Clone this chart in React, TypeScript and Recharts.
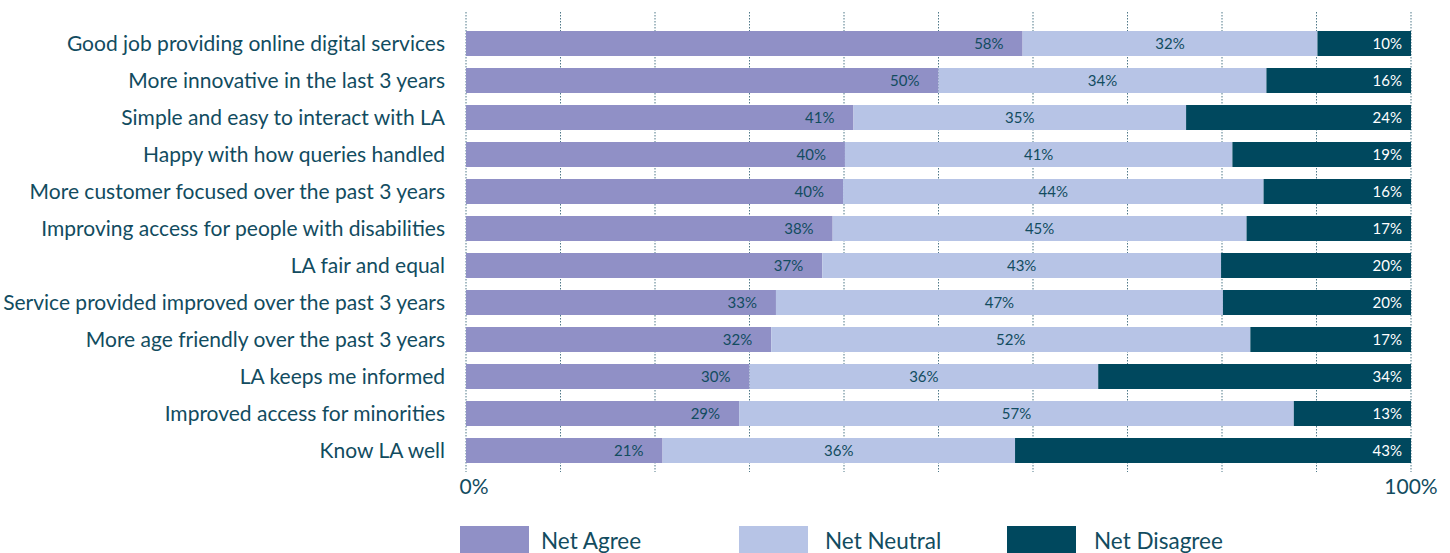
import React from 'react';
import { BarChart, Bar, XAxis, YAxis, CartesianGrid, LabelList } from 'recharts';

const categories = [
  'Good job providing online digital services',
  'More innovative in the last 3 years',
  'Simple and easy to interact with LA',
  'Happy with how queries handled',
  'More customer focused over the past 3 years',
  'Improving access for people with disabilities',
  'LA fair and equal',
  'Service provided improved over the past 3 years',
  'More age friendly over the past 3 years',
  'LA keeps me informed',
  'Improved access for minorities',
  'Know LA well',
];

// bar lengths as drawn (%)
const netAgree = [58.9, 50.0, 41.0, 40.1, 39.9, 38.8, 37.7, 32.8, 32.3, 30.0, 28.9, 20.8];
const netNeutral = [31.2, 34.7, 35.2, 41.0, 44.5, 43.8, 42.2, 47.3, 50.7, 36.9, 58.7, 37.3];
const netDisagree = [9.9, 15.3, 23.8, 18.9, 15.6, 17.4, 20.1, 19.9, 17.0, 33.1, 12.4, 41.9];

// printed labels (%)
const agreeLabels = [58, 50, 41, 40, 40, 38, 37, 33, 32, 30, 29, 21];
const neutralLabels = [32, 34, 35, 41, 44, 45, 43, 47, 52, 36, 57, 36];
const disagreeLabels = [10, 16, 24, 19, 16, 17, 20, 20, 17, 34, 13, 43];

const xTicks = [0, 10, 20, 30, 40, 50, 60, 70, 80, 90, 100];

const AGREE = '#9090c6';
const NEUTRAL = '#b7c4e6';
const DISAGREE = '#00485e';
const TEXT = '#124c5f';
const FONT = 'Lato, "Open Sans", sans-serif';

const data = categories.map((name, i) => ({
  name,
  agree: netAgree[i],
  neutral: netNeutral[i],
  disagree: netDisagree[i],
  agreeLabel: `${agreeLabels[i]}%`,
  neutralLabel: `${neutralLabels[i]}%`,
  disagreeLabel: `${disagreeLabels[i]}%`,
}));

const legendItems = [
  { name: 'Net Agree', color: AGREE, left: 460, textLeft: 541 },
  { name: 'Net Neutral', color: NEUTRAL, left: 739, textLeft: 825 },
  { name: 'Net Disagree', color: DISAGREE, left: 1007, textLeft: 1094 },
];

const CategoryTick = (props: any) => {
  const { x, y, payload } = props;
  return (
    <text x={x} y={y} dy="0.36em" textAnchor="end" fill={TEXT} fontSize={21} fontFamily={FONT}>
      {payload.value}
    </text>
  );
};

const PercentTick = (props: any) => {
  const { x, y, payload } = props;
  if (payload.value !== 0 && payload.value !== 100) return null;
  return (
    <text x={payload.value === 0 ? x + 8 : x} y={y} dy="0.72em" textAnchor="middle" fill={TEXT} fontSize={21} fontFamily={FONT}>
      {`${payload.value}%`}
    </text>
  );
};

const GridLine = (props: any) => {
  const { x1, x2, y1, y2 } = props;
  return (
    <line x1={x1} x2={x2} y1={y1 - 13} y2={y2 + 3} stroke="#4f7888" strokeWidth={1} strokeDasharray="1.5 1.5" />
  );
};

export default function App() {
  return (
    <div style={{ position: 'absolute', left: 0, top: 0, width: 1450, height: 553, overflow: 'hidden', background: '#fff' }}>
      <BarChart
        width={1450}
        height={553}
        data={data}
        layout="vertical"
        margin={{ top: 25, right: 39, bottom: 54, left: 0 }}
        barSize={25}
      >
        <CartesianGrid horizontal={false} vertical={GridLine} />
        <XAxis
          type="number"
          domain={[0, 100]}
          ticks={xTicks}
          interval={0}
          axisLine={false}
          tickLine={false}
          tickSize={0}
          tickMargin={10}
          height={30}
          tick={<PercentTick />}
        />
        <YAxis
          type="category"
          dataKey="name"
          width={466}
          axisLine={false}
          tickLine={false}
          tickSize={0}
          tickMargin={21}
          interval={0}
          tick={<CategoryTick />}
        />
        <Bar dataKey="agree" stackId="a" fill={AGREE} isAnimationActive={false}>
          <LabelList dataKey="agreeLabel" position="insideRight" offset={19} fill={TEXT} fontSize={15} fontFamily={FONT} />
        </Bar>
        <Bar dataKey="neutral" stackId="a" fill={NEUTRAL} isAnimationActive={false}>
          <LabelList dataKey="neutralLabel" position="center" fill={TEXT} fontSize={15} fontFamily={FONT} />
        </Bar>
        <Bar dataKey="disagree" stackId="a" fill={DISAGREE} isAnimationActive={false}>
          <LabelList dataKey="disagreeLabel" position="insideRight" offset={9} fill="#ffffff" fontSize={15} fontFamily={FONT} />
        </Bar>
      </BarChart>
      {legendItems.map((item) => (
        <React.Fragment key={item.name}>
          <div style={{ position: 'absolute', left: item.left, top: 526, width: 69, height: 30, background: item.color }} />
          <div
            style={{
              position: 'absolute',
              left: item.textLeft,
              top: 528,
              fontFamily: FONT,
              fontSize: 22.5,
              lineHeight: '26px',
              color: TEXT,
              whiteSpace: 'nowrap',
            }}
          >
            {item.name}
          </div>
        </React.Fragment>
      ))}
    </div>
  );
}
